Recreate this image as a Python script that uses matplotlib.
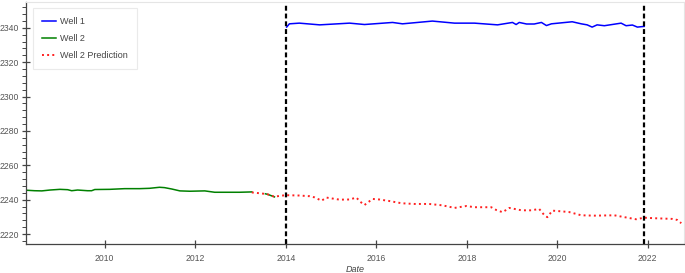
import matplotlib
matplotlib.use("Agg")
import matplotlib.pyplot as plt
from matplotlib.ticker import FixedLocator, MultipleLocator

# ---- data (decimal years) ----
well1_t = [2014.02, 2014.08, 2014.30, 2014.75, 2015.41, 2015.74, 2016.36, 2016.58, 2017.24,
           2017.73, 2018.17, 2018.68, 2019.01, 2019.09, 2019.16, 2019.32, 2019.49, 2019.65,
           2019.76, 2019.87, 2020.33, 2020.53, 2020.66, 2020.77, 2020.88, 2021.04, 2021.41,
           2021.52, 2021.66, 2021.77, 2021.92]
well1_v = [2340.4, 2342.3, 2342.7, 2341.7, 2342.7, 2341.9, 2343.1, 2342.3, 2343.9,
           2342.7, 2342.7, 2341.7, 2343.1, 2341.9, 2343.1, 2342.2, 2342.2, 2343.1,
           2341.3, 2342.3, 2343.5, 2342.3, 2341.7, 2340.4, 2341.7, 2341.2, 2342.7,
           2341.2, 2341.6, 2340.4, 2340.8]

well2_t = [2008.26, 2008.45, 2008.61, 2008.79, 2009.01, 2009.18, 2009.27, 2009.40, 2009.62,
           2009.71, 2009.78, 2010.11, 2010.44, 2010.77, 2010.99, 2011.21, 2011.32, 2011.48,
           2011.66, 2011.88, 2012.21, 2012.43, 2012.65, 2012.98, 2013.25]
well2_v = [2245.5, 2245.2, 2245.1, 2245.6, 2246.0, 2245.8, 2245.2, 2245.6, 2245.2,
           2245.2, 2245.9, 2246.0, 2246.4, 2246.4, 2246.6, 2247.2, 2247.0, 2246.2,
           2245.1, 2244.9, 2245.1, 2244.3, 2244.3, 2244.3, 2244.5]
well2b_t = [2013.55, 2013.60, 2013.75]
well2b_v = [2243.4, 2243.1, 2241.6]

pred_t = [2013.25, 2013.47, 2013.60, 2013.75, 2013.89, 2014.02, 2014.30, 2014.53, 2014.64,
          2014.79, 2014.90, 2015.19, 2015.41, 2015.56, 2015.65, 2015.74, 2015.83, 2015.92,
          2016.07, 2016.29, 2016.56, 2016.84, 2017.17, 2017.46, 2017.73, 2017.99, 2018.17,
          2018.54, 2018.65, 2018.79, 2018.94, 2019.21, 2019.43, 2019.60, 2019.71, 2019.78,
          2019.89, 2020.00, 2020.26, 2020.53, 2020.82, 2021.26, 2021.55, 2021.74, 2021.92,
          2022.14, 2022.54, 2022.65, 2022.74]
pred_v = [2244.2, 2243.6, 2243.1, 2241.7, 2242.3, 2242.6, 2242.4, 2242.0, 2241.3,
          2239.4, 2241.2, 2240.0, 2240.1, 2241.2, 2238.7, 2236.9, 2238.7, 2240.4,
          2240.1, 2239.2, 2237.9, 2237.5, 2237.5, 2236.7, 2235.2, 2236.3, 2235.6,
          2235.6, 2234.0, 2232.7, 2235.2, 2233.8, 2233.8, 2234.6, 2231.1, 2229.8,
          2233.6, 2233.4, 2232.8, 2230.9, 2230.7, 2230.9, 2229.5, 2228.6, 2229.5,
          2229.2, 2228.8, 2228.2, 2226.3]

vlines_t = [2014.0, 2021.92]
xtick_vals = [2010, 2012, 2014, 2016, 2018, 2020, 2022]
xtick_labels = ["2010", "2012", "2014", "2016", "2018", "2020", "2022"]
ytick_vals = [2220, 2240, 2260, 2280, 2300, 2320, 2340]

plt.rcParams['font.family'] = ['Liberation Sans', 'DejaVu Sans']

fig = plt.figure(figsize=(6.85, 2.73), dpi=100)
ax = fig.add_axes([26 / 685, 29 / 273, 658 / 685, 242 / 273])

ax.plot(well1_t, well1_v, color="#0000ff", lw=1.1, label="Well 1", solid_joinstyle="round")
ax.plot(well2_t, well2_v, color="#008000", lw=1.1, label="Well 2")
ax.plot(well2b_t, well2b_v, color="#008000", lw=1.1)
ax.plot(pred_t, pred_v, color="#ff2020", lw=1.4, linestyle=":", label="Well 2 Prediction")
for t in vlines_t:
    ax.axvline(t, color="black", lw=1.6, linestyle=(0, (2.2, 1.3)))

ax.set_xlim(2008.26, 2022.8)
ax.set_ylim(2214.2, 2355)

ax.xaxis.set_major_locator(FixedLocator(xtick_vals))
ax.set_xticklabels(xtick_labels)
ax.yaxis.set_major_locator(FixedLocator(ytick_vals))
ax.yaxis.set_minor_locator(MultipleLocator(4))

for side in ("top", "right"):
    ax.spines[side].set_color("#e5e5e5")
    ax.spines[side].set_linewidth(0.8)
for side in ("left", "bottom"):
    ax.spines[side].set_color("#444444")
    ax.spines[side].set_linewidth(0.9)

ax.tick_params(axis="both", which="major", direction="inout", length=6, width=0.9,
               color="#444444", labelsize=6.2, labelcolor="#555555", pad=2)
ax.tick_params(axis="y", which="minor", direction="out", length=3, width=0.7, color="#444444")
ax.tick_params(axis="x", which="major", pad=4)

ax.set_xlabel("Date", fontsize=6.5, style="italic", color="#444444", labelpad=1.5)

leg = ax.legend(loc="upper left", bbox_to_anchor=(7 / 658, 1 - 6 / 242), fontsize=6.5,
                frameon=True, fancybox=False, handlelength=1.5, handletextpad=0.5,
                borderpad=1.0, labelspacing=0.9, borderaxespad=0)
leg.get_frame().set_edgecolor("#e5e5e5")
leg.get_frame().set_linewidth(0.8)
for txt in leg.get_texts():
    txt.set_color("#444444")

fig.savefig("out.png", dpi=100)
